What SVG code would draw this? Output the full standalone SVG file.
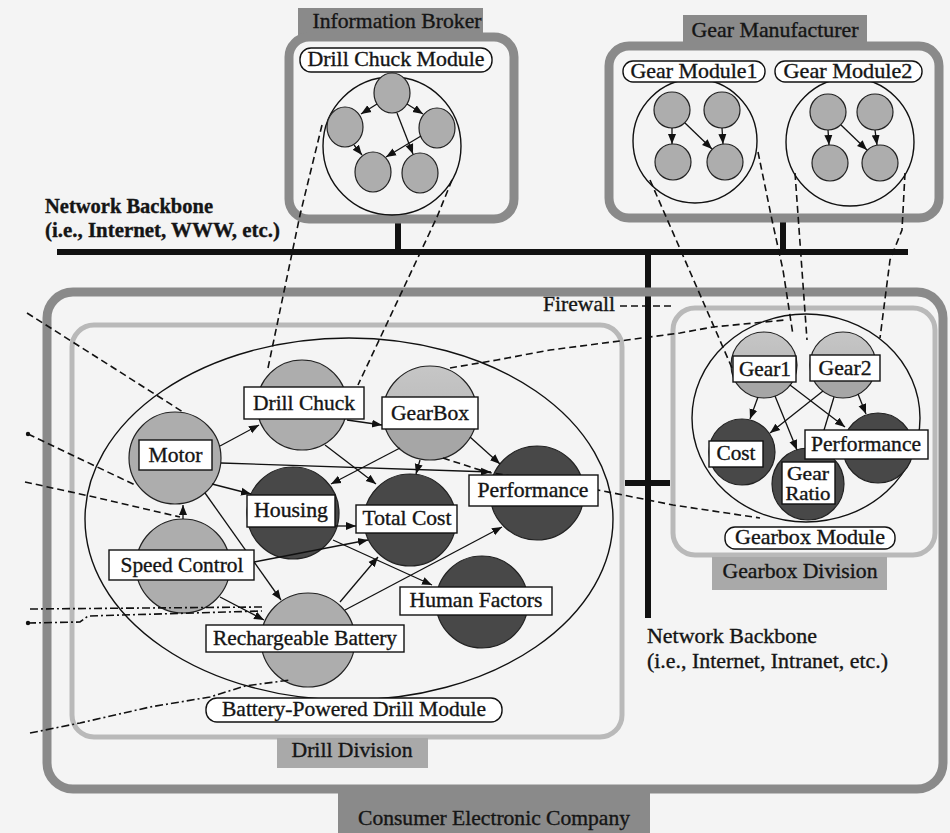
<svg xmlns="http://www.w3.org/2000/svg" width="950" height="833" viewBox="0 0 950 833">
  <style>
    .txt { font-family: "Liberation Serif", "Times New Roman", "DejaVu Serif", serif; font-size: 21px; fill: #151515; stroke: #151515; stroke-width: 0.35; }
    .mid { text-anchor: middle; }
    .bold { font-weight: bold; }
    .org { fill: none; stroke: #8a8a8a; stroke-width: 9; }
    .div { fill: none; stroke: #b9b9b9; stroke-width: 5; }
    .orgtag { fill: #8a8a8a; }
    .divtag { fill: #a9a9a9; }
    .module { fill: none; stroke: #111; stroke-width: 1.4; }
    .pill { fill: #fff; stroke: #111; stroke-width: 1.4; }
    .lt { fill: #adadad; stroke: #222; stroke-width: 1.2; }
    .lt2 { fill: url(#shade); stroke: #222; stroke-width: 1.2; }
    .dk { fill: #484848; stroke: #222; stroke-width: 1.2; }
    .lbl { fill: #fff; stroke: #111; stroke-width: 1.4; }
    .net { stroke: #111; stroke-width: 6; fill: none; }
    .arc { stroke: #111; stroke-width: 1.3; fill: none; marker-end: url(#ah); }
    .dash { stroke: #111; stroke-width: 1.6; fill: none; stroke-dasharray: 7 4; }
    .dashdot { stroke: #111; stroke-width: 1.6; fill: none; stroke-dasharray: 8 3 2 3; }
  </style>
  <defs>
    <marker id="ah" viewBox="0 0 10 10" refX="10" refY="5" markerWidth="10" markerHeight="10" markerUnits="userSpaceOnUse" orient="auto">
      <path d="M0,1 L10,5 L0,9 z" fill="#111"/>
    </marker>
    <!-- two-tone shading used on the gear-type nodes -->
    <linearGradient id="shade" x1="0" y1="0" x2="0" y2="1">
      <stop offset="0" stop-color="#c6c6c6"/>
      <stop offset="0.5" stop-color="#bcbcbc"/>
      <stop offset="0.5" stop-color="#a6a6a6"/>
      <stop offset="1" stop-color="#a6a6a6"/>
    </linearGradient>
  </defs>

  <rect width="950" height="833" fill="#f4f4f4"/>

  <!-- network backbone wiring -->
  <g id="backbone">
    <line class="net" x1="57" y1="252" x2="908" y2="252"/>
    <line class="net" x1="398" y1="220" x2="398" y2="252"/>
    <line class="net" x1="783" y1="218" x2="783" y2="252"/>
    <line class="net" x1="648" y1="252" x2="648" y2="618"/>
    <line class="net" x1="625" y1="483" x2="670" y2="483"/>
  </g>

  <!-- Information Broker -->
  <g id="information-broker">
    <rect class="orgtag" x="298" y="8" width="185" height="30"/>
    <rect class="org" x="289" y="37" width="225" height="182" rx="20"/>
    <text class="txt mid" x="397" y="28" textLength="169" lengthAdjust="spacingAndGlyphs">Information Broker</text>
  </g>
  <g id="drill-chuck-module">
    <circle class="module" cx="392" cy="146" r="69"/>
    <ellipse class="lt" cx="392" cy="93" rx="18" ry="20"/>
    <ellipse class="lt" cx="345" cy="127" rx="18" ry="20"/>
    <ellipse class="lt" cx="437" cy="128" rx="18" ry="20"/>
    <ellipse class="lt" cx="373" cy="172" rx="18" ry="20"/>
    <ellipse class="lt" cx="420" cy="173" rx="18" ry="20"/>
    <line class="arc" x1="377" y1="104" x2="361" y2="114"/>
    <line class="arc" x1="407" y1="104" x2="423" y2="114"/>
    <line class="arc" x1="354" y1="145" x2="362" y2="155"/>
    <line class="arc" x1="397" y1="113" x2="413" y2="154"/>
    <line class="arc" x1="421" y1="136" x2="386" y2="157"/>
    <rect class="pill" x="300" y="48" width="192" height="24" rx="11"/>
    <text class="txt mid" x="396" y="66" textLength="177" lengthAdjust="spacingAndGlyphs">Drill Chuck Module</text>
  </g>

  <!-- Gear Manufacturer -->
  <g id="gear-manufacturer">
    <rect class="orgtag" x="683" y="15" width="184" height="30"/>
    <rect class="org" x="609" y="46" width="330" height="172" rx="20"/>
    <text class="txt mid" x="775" y="37" textLength="167" lengthAdjust="spacingAndGlyphs">Gear Manufacturer</text>
  </g>
  <g id="gear-module-1">
    <circle class="module" cx="695" cy="141" r="62"/>
    <circle class="lt" cx="672" cy="110" r="18"/>
    <circle class="lt" cx="722" cy="110" r="18"/>
    <circle class="lt" cx="673" cy="162" r="18"/>
    <circle class="lt" cx="725" cy="162" r="18"/>
    <line class="arc" x1="672" y1="128" x2="672" y2="144"/>
    <line class="arc" x1="685" y1="123" x2="712" y2="149"/>
    <line class="arc" x1="722" y1="128" x2="723" y2="144"/>
    <rect class="pill" x="623" y="61" width="142" height="21" rx="10"/>
    <text class="txt mid" x="694" y="78" textLength="127" lengthAdjust="spacingAndGlyphs">Gear Module1</text>
  </g>
  <g id="gear-module-2">
    <circle class="module" cx="850" cy="142" r="64"/>
    <circle class="lt" cx="828" cy="112" r="18"/>
    <circle class="lt" cx="875" cy="112" r="18"/>
    <circle class="lt" cx="830" cy="163" r="18"/>
    <circle class="lt" cx="880" cy="163" r="18"/>
    <line class="arc" x1="828" y1="130" x2="829" y2="145"/>
    <line class="arc" x1="841" y1="125" x2="867" y2="150"/>
    <line class="arc" x1="875" y1="130" x2="877" y2="145"/>
    <rect class="pill" x="775" y="61" width="147" height="21" rx="10"/>
    <text class="txt mid" x="848" y="78" textLength="129" lengthAdjust="spacingAndGlyphs">Gear Module2</text>
  </g>

  <g id="backbone-labels">
    <text class="txt bold" x="45" y="213" textLength="168" lengthAdjust="spacingAndGlyphs">Network Backbone</text>
    <text class="txt bold" x="45" y="237" textLength="235" lengthAdjust="spacingAndGlyphs">(i.e., Internet, WWW, etc.)</text>
    <text class="txt" x="647" y="643" textLength="170" lengthAdjust="spacingAndGlyphs">Network Backbone</text>
    <text class="txt" x="647" y="668" textLength="241" lengthAdjust="spacingAndGlyphs">(i.e., Internet, Intranet, etc.)</text>
  </g>

  <!-- Consumer Electronic Company -->
  <g id="consumer-electronic-company">
    <rect class="orgtag" x="338" y="790" width="312" height="43"/>
    <rect class="org" x="47" y="292" width="896" height="497" rx="26"/>
    <text class="txt mid" x="494" y="825" textLength="272" lengthAdjust="spacingAndGlyphs">Consumer Electronic Company</text>
  </g>
  <g id="firewall">
    <text class="txt" x="543" y="311" textLength="72" lengthAdjust="spacingAndGlyphs">Firewall</text>
    <line class="dash" x1="620" y1="306" x2="675" y2="306"/>
  </g>

  <!-- Drill Division -->
  <g id="drill-division">
    <rect class="div" x="72" y="325" width="550" height="412" rx="22"/>
    <rect class="divtag" x="277" y="738" width="151" height="30"/>
    <text class="txt mid" x="352" y="757" textLength="121" lengthAdjust="spacingAndGlyphs">Drill Division</text>
  </g>

  <!-- Gearbox Division -->
  <g id="gearbox-division">
    <rect class="div" x="673" y="308" width="262" height="247" rx="22"/>
    <rect class="divtag" x="712" y="557" width="175" height="33"/>
    <text class="txt mid" x="800" y="578" textLength="155" lengthAdjust="spacingAndGlyphs">Gearbox Division</text>
  </g>

  <!-- Battery-Powered Drill Module: module outline and node discs -->
  <g id="drill-module">
    <ellipse class="module" cx="349" cy="519" rx="264" ry="181"/>
    <circle class="lt" cx="175" cy="458" r="46"/>
    <circle class="lt" cx="302" cy="405" r="45"/>
    <circle class="lt2" cx="430" cy="413" r="47"/>
    <circle class="dk" cx="293" cy="513" r="46"/>
    <circle class="dk" cx="410" cy="520" r="46"/>
    <circle class="dk" cx="537" cy="493" r="47"/>
    <circle class="lt" cx="183" cy="566" r="47"/>
    <circle class="dk" cx="482" cy="602" r="46"/>
    <circle class="lt" cx="308" cy="640" r="47"/>
  </g>

  <!-- Gearbox Module: module outline and node discs -->
  <g id="gearbox-module">
    <ellipse class="module" cx="806" cy="418" rx="114" ry="104"/>
    <circle class="lt2" cx="764" cy="365" r="33"/>
    <circle class="lt2" cx="843" cy="365" r="33"/>
    <circle class="dk" cx="742" cy="452" r="33"/>
    <circle class="dk" cx="808" cy="484" r="36"/>
    <circle class="dk" cx="878" cy="448" r="35"/>
  </g>

  <!-- influence arcs and cross-module links -->
  <g id="connectors">
    <!-- drill module -->
    <line class="arc" x1="220" y1="446" x2="259" y2="425"/>
    <line class="arc" x1="347" y1="420" x2="382" y2="425"/>
    <line class="arc" x1="212" y1="484" x2="251" y2="494"/>
    <line class="arc" x1="221" y1="463" x2="491" y2="472"/>
    <line class="arc" x1="205" y1="493" x2="281" y2="600"/>
    <line class="arc" x1="400" y1="448" x2="331" y2="484"/>
    <line class="arc" x1="420" y1="460" x2="416" y2="474"/>
    <line class="arc" x1="470" y1="437" x2="500" y2="464"/>
    <line class="arc" x1="325" y1="445" x2="376" y2="484"/>
    <line class="arc" x1="335" y1="526" x2="356" y2="526"/>
    <line class="arc" x1="254" y1="562" x2="368" y2="540"/>
    <line class="arc" x1="333" y1="540" x2="432" y2="585"/>
    <line class="arc" x1="340" y1="602" x2="378" y2="557"/>
    <line class="arc" x1="345" y1="610" x2="502" y2="527"/>
    <line class="arc" x1="220" y1="597" x2="264" y2="620"/>
    <line class="arc" x1="183" y1="519" x2="183" y2="505"/>
    <!-- gearbox module -->
    <line class="arc" x1="758" y1="397" x2="750" y2="419"/>
    <line class="arc" x1="775" y1="396" x2="797" y2="450"/>
    <line class="arc" x1="790" y1="385" x2="845" y2="427"/>
    <line class="arc" x1="823" y1="391" x2="770" y2="433"/>
    <line class="arc" x1="834" y1="397" x2="818" y2="450"/>
    <line class="arc" x1="858" y1="394" x2="866" y2="414"/>
    <!-- links across the network -->
    <polyline class="dash" points="322,125 300,215 268,368"/>
    <polyline class="dash" points="452,180 437,217 358,385"/>
    <polyline class="dash" points="650,180 732,368"/>
    <polyline class="dash" points="758,152 772,220 783,270 793,335"/>
    <polyline class="dash" points="795,173 807,340"/>
    <polyline class="dash" points="905,173 902,230 890,260 880,338"/>
    <polyline class="dash" points="450,368 497,360 550,350 627,340 680,333 713,327 785,320"/>
    <polyline class="dash" points="443,458 486,472 598,490 673,505 760,518"/>
    <!-- links to modules outside the figure -->
    <polyline class="dash" points="27,313 183,412"/>
    <polyline class="dash" points="28,434 135,485"/>
    <circle cx="28" cy="434" r="2.2" fill="#111"/>
    <polyline class="dash" points="25,482 94,497 180,517"/>
    <polyline class="dashdot" points="30,609 262,607"/>
    <polyline class="dashdot" points="28,623 80,622 88,616 262,611"/>
    <circle cx="28" cy="623" r="2.2" fill="#111"/>
    <polyline class="dashdot" points="30,733 80,723 150,707 210,697 245,686 290,680"/>
  </g>

  <!-- node labels -->
  <g id="motor"><rect class="lbl" x="139" y="440" width="73" height="30"/><text class="txt mid" x="175.5" y="462" textLength="54" lengthAdjust="spacingAndGlyphs">Motor</text></g>
  <g id="drill-chuck"><rect class="lbl" x="244" y="387" width="120" height="32"/><text class="txt mid" x="304" y="410" textLength="102" lengthAdjust="spacingAndGlyphs">Drill Chuck</text></g>
  <g id="gearbox"><rect class="lbl" x="382" y="397" width="96" height="32"/><text class="txt mid" x="430" y="420" textLength="78" lengthAdjust="spacingAndGlyphs">GearBox</text></g>
  <g id="housing"><rect class="lbl" x="247" y="495" width="88" height="32"/><text class="txt mid" x="291" y="517" textLength="74" lengthAdjust="spacingAndGlyphs">Housing</text></g>
  <g id="total-cost"><rect class="lbl" x="356" y="505" width="101" height="28"/><text class="txt mid" x="407" y="525" textLength="89" lengthAdjust="spacingAndGlyphs">Total Cost</text></g>
  <g id="performance"><rect class="lbl" x="469" y="475" width="129" height="31"/><text class="txt mid" x="533" y="497" textLength="111" lengthAdjust="spacingAndGlyphs">Performance</text></g>
  <g id="speed-control"><rect class="lbl" x="109" y="550" width="145" height="30"/><text class="txt mid" x="182" y="572" textLength="123" lengthAdjust="spacingAndGlyphs">Speed Control</text></g>
  <g id="human-factors"><rect class="lbl" x="400" y="587" width="152" height="28"/><text class="txt mid" x="476" y="607" textLength="133" lengthAdjust="spacingAndGlyphs">Human Factors</text></g>
  <g id="rechargeable-battery"><rect class="lbl" x="206" y="625" width="198" height="27"/><text class="txt mid" x="305" y="645" textLength="184" lengthAdjust="spacingAndGlyphs">Rechargeable Battery</text></g>
  <g id="battery-powered-drill-module"><rect class="pill" x="206" y="698" width="296" height="24" rx="11"/><text class="txt mid" x="354" y="716" textLength="264" lengthAdjust="spacingAndGlyphs">Battery-Powered Drill Module</text></g>

  <g id="gear1"><rect class="lbl" x="733" y="356" width="63" height="26"/><text class="txt mid" x="765" y="376" textLength="52" lengthAdjust="spacingAndGlyphs">Gear1</text></g>
  <g id="gear2"><rect class="lbl" x="810" y="355" width="70" height="26"/><text class="txt mid" x="845" y="375" textLength="53" lengthAdjust="spacingAndGlyphs">Gear2</text></g>
  <g id="cost"><rect class="lbl" x="709" y="441" width="54" height="26"/><text class="txt mid" x="736" y="460" textLength="39" lengthAdjust="spacingAndGlyphs">Cost</text></g>
  <g id="gear-ratio"><rect class="lbl" x="782" y="462" width="53" height="42"/><text class="txt mid" x="808" y="480" style="font-size:18px" textLength="42" lengthAdjust="spacingAndGlyphs">Gear</text><text class="txt mid" x="808" y="500" style="font-size:18px" textLength="45" lengthAdjust="spacingAndGlyphs">Ratio</text></g>
  <g id="gearbox-performance"><rect class="lbl" x="805" y="430" width="123" height="29"/><text class="txt mid" x="866" y="451" textLength="110" lengthAdjust="spacingAndGlyphs">Performance</text></g>
  <g id="gearbox-module-tag"><rect class="pill" x="725" y="527" width="170" height="22" rx="10"/><text class="txt mid" x="810" y="544" textLength="150" lengthAdjust="spacingAndGlyphs">Gearbox Module</text></g>
</svg>
